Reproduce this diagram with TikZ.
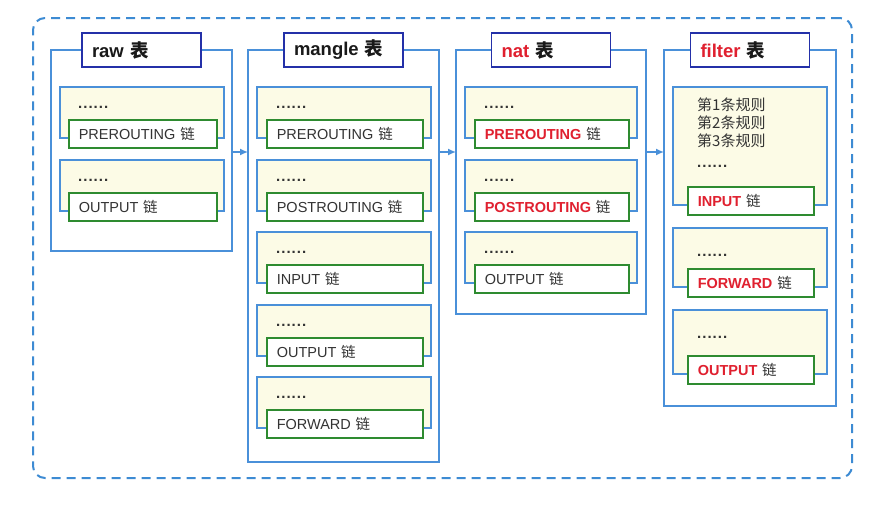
\documentclass[tikz,border=0pt]{standalone}
\usepackage{fontspec}
\setmainfont{Liberation Sans}
\newfontfamily\cjk{Noto Sans CJK SC}
\usepackage{xcolor}
\usepackage{tikz}
\usetikzlibrary{arrows.meta,positioning,calc}
\definecolor{tblblue}{HTML}{4A90D9}
\definecolor{navy}{HTML}{2430A8}
\definecolor{chaingreen}{HTML}{2E8B30}
\definecolor{cream}{HTML}{FCFBE6}
\definecolor{hot}{HTML}{E0202F}
\definecolor{ink}{HTML}{333333}
\definecolor{framec}{HTML}{3D8BD3}
\newcommand{\lian}{{\cjk 链}}
\newcommand{\biao}{{\cjk 表}}
\newcommand{\hotname}[1]{\textcolor{hot}{\bfseries #1}}
\newcommand{\sixdots}{{\bfseries.\kern1pt.\kern1pt.\kern1pt.\kern1pt.\kern1pt.}}
\newcommand{\ruleline}[1]{{\cjk 第#1条规则}}
\tikzset{
  outerframe/.style={draw=framec,line width=2pt,dash pattern=on 9pt off 6pt,
    rounded corners=12pt,anchor=north west,inner sep=0pt,outer sep=0pt},
  tblbox/.style={draw=tblblue,line width=1.6pt,fill=white,anchor=north west,
    inner sep=0pt,outer sep=0pt},
  tbltitle/.style={draw=navy,line width=1.6pt,fill=white,text width=99pt,
    minimum height=34pt,inner xsep=10pt,inner ysep=0pt,align=left,
    font=\fontsize{18.5}{22}\selectfont\bfseries,text=black!90},
  chainbox/.style={draw=tblblue,line width=1.6pt,fill=cream,anchor=north west,
    inner sep=0pt,outer sep=0pt},
  chainname/.style={draw=chaingreen,line width=1.6pt,fill=white,anchor=north west,
    minimum height=28pt,inner xsep=10pt,inner ysep=0pt,align=left,
    font=\fontsize{14.5}{17}\selectfont,text=ink},
  toptext/.style={anchor=south west,inner sep=0pt,align=left,
    font=\fontsize{15}{18}\selectfont,text=ink},
  flow/.style={draw=tblblue,line width=1.5pt,-{Latex[length=8pt,width=7pt]}},
}
% one chain: blue box, green name box over its lower edge, text above
% #1 name, #2 x, #3 y, #4 width, #5 height, #6 green inset, #7 text gap, #8 text, #9 chain
\newcommand{\chaingrp}[9]{%
  \node[chainbox,minimum width=#4pt,minimum height=#5pt] (#1) at (#2,#3) {};
  \node[chainname,text width={#4pt-2*#6pt-20pt}] (#1-name)
    at ([xshift=#6pt,yshift=19pt]#1.south west) {#9};
  \node[toptext] (#1-top) at ([xshift=10pt,yshift=#7pt]#1-name.north west) {#8};
}

\begin{document}
\begin{tikzpicture}[x=1pt,y=-1pt]
  \useasboundingbox (0,0) rectangle (887,507);
  \node[outerframe,minimum width=819pt,minimum height=460pt] (frame) at (33,18) {};
  % tables
  \node[tblbox,minimum width=181pt,minimum height=201pt] (raw) at (51,50) {};
  \node[tblbox,minimum width=191pt,minimum height=412pt] (mangle) at (248,50) {};
  \node[tblbox,minimum width=190pt,minimum height=264pt] (nat) at (456,50) {};
  \node[tblbox,minimum width=172pt,minimum height=356pt] (filter) at (664,50) {};
  \node[tbltitle] (raw-t) at (raw.north) {raw \biao};
  \node[tbltitle] (mangle-t) at (mangle.north) {mangle \biao};
  \node[tbltitle] (nat-t) at (nat.north) {\textcolor{hot}{nat} \biao};
  \node[tbltitle] (filter-t) at (filter.north) {\textcolor{hot}{filter} \biao};
  % raw
  \chaingrp{raw-pre}{60}{87}{164}{51}{8}{10.5}{\sixdots}{PREROUTING \lian}
  \chaingrp{raw-out}{60}{160}{164}{51}{8}{10.5}{\sixdots}{OUTPUT \lian}
  % mangle
  \chaingrp{mg-pre}{257}{87}{174}{51}{9}{10.5}{\sixdots}{PREROUTING \lian}
  \chaingrp{mg-post}{257}{160}{174}{51}{9}{10.5}{\sixdots}{POSTROUTING \lian}
  \chaingrp{mg-in}{257}{232}{174}{51}{9}{10.5}{\sixdots}{INPUT \lian}
  \chaingrp{mg-out}{257}{305}{174}{51}{9}{10.5}{\sixdots}{OUTPUT \lian}
  \chaingrp{mg-fwd}{257}{377}{174}{51}{9}{10.5}{\sixdots}{FORWARD \lian}
  % nat
  \chaingrp{nat-pre}{465}{87}{172}{51}{9}{10.5}{\sixdots}{\hotname{PREROUTING} \lian}
  \chaingrp{nat-post}{465}{160}{172}{51}{9}{10.5}{\sixdots}{\hotname{POSTROUTING} \lian}
  \chaingrp{nat-out}{465}{232}{172}{51}{9}{10.5}{\sixdots}{OUTPUT \lian}
  % filter
  \chaingrp{flt-in}{673}{87}{154}{118}{14}{18.5}%
    {\ruleline1\\\ruleline2\\\ruleline3\\[3pt]\sixdots}{\hotname{INPUT} \lian}
  \chaingrp{flt-fwd}{673}{228}{154}{59}{14}{11.5}{\sixdots}{\hotname{FORWARD} \lian}
  \chaingrp{flt-out}{673}{310}{154}{64}{14}{16.5}{\sixdots}{\hotname{OUTPUT} \lian}
  % table order
  \coordinate (lane) at (0,152);
  \draw[flow] (raw.east |- lane) -- (mangle.west |- lane);
  \draw[flow] (mangle.east |- lane) -- (nat.west |- lane);
  \draw[flow] (nat.east |- lane) -- (filter.west |- lane);
\end{tikzpicture}
\end{document}
